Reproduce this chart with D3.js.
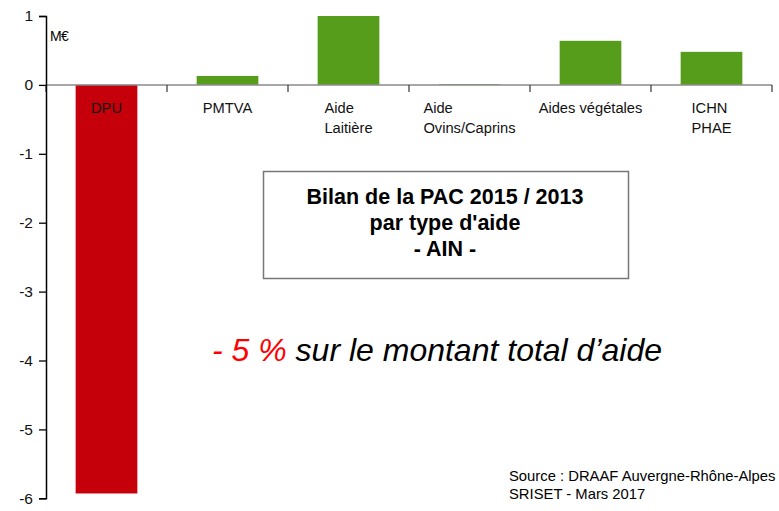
<!DOCTYPE html>
<html><head><meta charset="utf-8">
<script src="https://cdn.jsdelivr.net/npm/d3@7"></script>
<style>body{margin:0;background:#fff}svg{display:block}text{font-family:"Liberation Sans",Arial,sans-serif}</style>
</head><body><div id="c"></div>
<script>
const categories = ["DPU", "PMTVA", "Aide\nLaitière", "Aide\nOvins/Caprins", "Aides végétales", "ICHN\nPHAE"];
const values = [-5.93, 0.13, 1.0, 0.01, 0.64, 0.48];
const yTicks = [1, 0, -1, -2, -3, -4, -5, -6];
const unitLabel = "M€";
const titleLines = ["Bilan de la PAC 2015 / 2013", "par type d'aide", "- AIN -"];
const highlightRed = "- 5 %";
const highlightRest = " sur le montant total d’aide";
const sourceLines = ["Source : DRAAF Auvergne-Rhône-Alpes", "SRISET - Mars 2017"];

const W = 779, H = 511;
const svg = d3.select("#c").append("svg").attr("width", W).attr("height", H);

const x = d3.scaleBand().domain(categories).range([46, 772]).paddingInner(0.49).paddingOuter(0.245);
const y = d3.scaleLinear().domain([-6, 1]).range([498.3, 16]);

// bars
svg.selectAll("rect.bar").data(values).enter().append("rect")
  .attr("class", "bar")
  .attr("x", (d, i) => x(categories[i]))
  .attr("width", x.bandwidth())
  .attr("y", d => y(Math.max(0, d)))
  .attr("height", d => Math.abs(y(d) - y(0)))
  .attr("fill", d => d < 0 ? "#c5000b" : "#579d1c");

// x axis line + ticks
const xg = svg.append("g");
xg.append("line").attr("x1", 46).attr("x2", 772).attr("y1", y(0)).attr("y2", y(0))
  .attr("stroke", "#8a8a8a").attr("stroke-width", 1.5);
const tickXs = d3.range(categories.length + 1).map(i => 46 + i * (726 / categories.length));
xg.selectAll("line.t").data(tickXs).enter().append("line")
  .attr("x1", d => d).attr("x2", d => d).attr("y1", y(0)).attr("y2", y(0) + 7)
  .attr("stroke", "#444").attr("stroke-width", 1.3);

// y axis
const yAxis = d3.axisLeft(y).tickValues(yTicks).tickSize(7).tickPadding(6).tickFormat(d => String(d));
const yg = svg.append("g").attr("transform", "translate(46,0)").call(yAxis);
yg.select(".domain").attr("stroke", "#000").attr("stroke-width", 1.5);
yg.selectAll(".tick line").attr("stroke", "#000").attr("stroke-width", 1.3);
yg.selectAll(".tick text").attr("font-size", 15.5).attr("font-family", '"Liberation Sans",Arial,sans-serif').attr("fill", "#111");

svg.append("text").attr("x", 50).attr("y", 41).attr("font-size", 14).attr("letter-spacing", -0.6).text(unitLabel);

// category labels
categories.forEach((c, i) => {
  const lines = c.split("\n");
  const cx = x(c) + x.bandwidth() / 2;
  const g = svg.append("g");
  const texts = lines.map((l, j) => g.append("text").attr("y", 113 + j * 20).attr("font-size", 14.7).attr("fill", "#111").text(l));
  const maxW = d3.max(texts, t => t.node().getComputedTextLength());
  texts.forEach(t => t.attr("x", cx - maxW / 2));
});

// title box
svg.append("rect").attr("x", 263.5).attr("y", 171.5).attr("width", 365).attr("height", 107)
  .attr("fill", "#fff").attr("stroke", "#777").attr("stroke-width", 1.5);
titleLines.forEach((l, j) => {
  svg.append("text").attr("x", 445).attr("y", 204 + j * 26).attr("text-anchor", "middle")
    .attr("font-size", 21.5).attr("font-weight", "bold").attr("fill", "#000").text(l);
});

// highlight text
const ht = svg.append("text").attr("x", 212).attr("y", 361).attr("font-size", 32).attr("font-style", "italic");
ht.append("tspan").attr("fill", "#ff0000").text(highlightRed);
ht.append("tspan").attr("fill", "#000").text(highlightRest);

// source
sourceLines.forEach((l, j) => {
  svg.append("text").attr("x", 509).attr("y", 481 + j * 17.5).attr("font-size", 14.8).attr("fill", "#000").text(l);
});
</script></body></html>
